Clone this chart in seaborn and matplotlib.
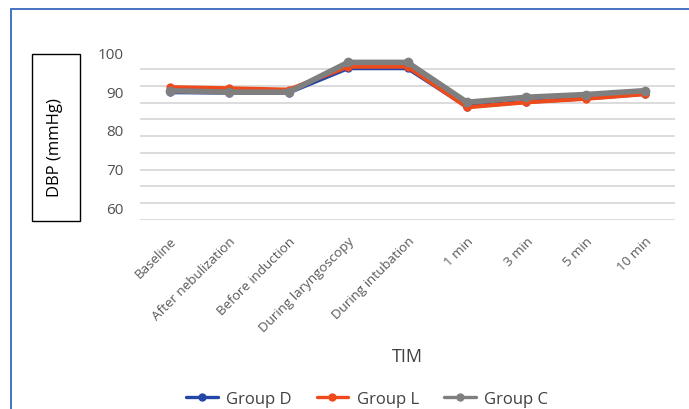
import numpy as np
import pandas as pd
import matplotlib
matplotlib.use("Agg")
import matplotlib.pyplot as plt
from matplotlib.lines import Line2D
from matplotlib.patches import Rectangle
import seaborn as sns

# Time points and diastolic blood pressure per group
time_points = ["Baseline", "After nebulization", "Before induction",
               "During laryngoscopy", "During intubation",
               "1 min", "3 min", "5 min", "10 min"]
group_d = [89.7, 89.6, 89.6, 95.9, 95.9, 86.0, 87.2, 88.1, 89.3]
group_l = [91.0, 90.7, 90.35, 96.3, 96.3, 85.8, 87.1, 88.0, 89.2]
group_c = [90.1, 89.7, 89.7, 97.4, 97.4, 87.1, 88.4, 89.1, 90.1]
y_ticks = [60, 70, 80, 90, 100]

groups = ["Group D", "Group L", "Group C"]
values = {"Group D": group_d, "Group L": group_l, "Group C": group_c}
colors = {"Group D": "#2446A6", "Group L": "#EF4A1C", "Group C": "#7F7F7F"}
widths = {"Group D": 3.0, "Group L": 3.0, "Group C": 4.0}
msizes = {"Group D": 6.0, "Group L": 6.0, "Group C": 7.0}

df = pd.concat(
    [pd.DataFrame({"TIM": time_points, "DBP": values[g], "group": g}) for g in groups],
    ignore_index=True,
)

sns.set_theme(style="white")
plt.rcParams["font.family"] = ["Open Sans", "DejaVu Sans"]

fig = plt.figure(figsize=(6.89, 4.10), dpi=100)
ax = fig.add_axes([140 / 689, 1 - 221 / 410, 535 / 689, (221 - 53.3) / 410])

for g in groups:
    sns.lineplot(data=df[df["group"] == g], x="TIM", y="DBP", ax=ax,
                 color=colors[g], linewidth=widths[g], marker="o",
                 markersize=msizes[g], markeredgewidth=0, sort=False,
                 label=g, legend=False)

ymin, ymax = 56.7, 100
ax.set_ylim(ymin, ymax)
ax.set_xlim(-0.5, len(time_points) - 0.5)
ax.set_yticks(y_ticks)
ax.set_yticks(np.linspace(ymin, ymax, 11), minor=True)
ax.grid(False)
ax.grid(True, which="minor", axis="y", color="#D9D9D9", linewidth=1.3)
ax.set_axisbelow(True)
for s in ax.spines.values():
    s.set_visible(False)
ax.tick_params(axis="y", which="both", length=0, pad=12, labelsize=11, labelcolor="#505050")
ax.tick_params(axis="x", length=0, pad=10, labelsize=9.6, labelcolor="#595959")
ax.set_xticks(range(len(time_points)))
ax.set_xticklabels(time_points, rotation=45, ha="right", rotation_mode="anchor")
ax.set_xlabel("TIM", fontsize=13, color="#404040")
ax.xaxis.set_label_coords(0.5, (221 - 348) / 167.7)
ax.set_ylabel("")

# Boxed y-axis title
fig.patches.append(Rectangle((32 / 689, 1 - 222 / 410), 48 / 689, 167 / 410,
                             transform=fig.transFigure, fill=False,
                             edgecolor="black", linewidth=1.0))
fig.text(55 / 689, 1 - 148 / 410, "DBP (mmHg)", rotation=90, ha="center",
         va="center", fontsize=12, color="black")

# Chart border
fig.add_artist(Line2D([11 / 689, 1.0], [1 - 10 / 410, 1 - 10 / 410],
                      transform=fig.transFigure, color="#4472C4", linewidth=1.4))
fig.add_artist(Line2D([11 / 689, 11 / 689], [0, 1 - 10 / 410],
                      transform=fig.transFigure, color="#4472C4", linewidth=1.4))

handles = [Line2D([], [], color=colors[g], linewidth=2.4, marker="o",
                  markersize=6, markeredgewidth=0) for g in groups]
fig.legend(handles, groups, loc="center", bbox_to_anchor=(367 / 689, 1 - 400 / 410),
           ncol=3, frameon=False, fontsize=12, handlelength=1.9,
           handletextpad=0.5, columnspacing=1.5, labelcolor="#404040")

fig.savefig("out.png", dpi=100, facecolor="white")
